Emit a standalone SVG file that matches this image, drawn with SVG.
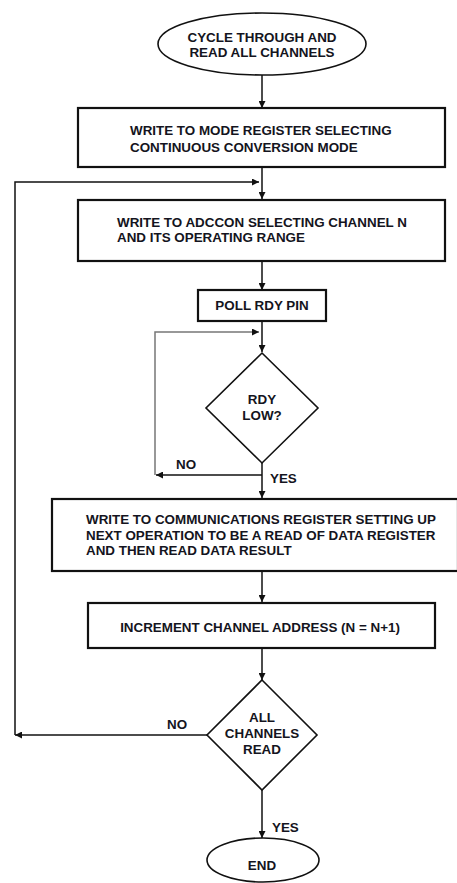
<svg xmlns="http://www.w3.org/2000/svg" width="457" height="883" viewBox="0 0 457 883">
<defs>
<style>
text{font-family:"Liberation Sans",Arial,sans-serif;font-weight:bold;font-size:13.4px;fill:#141420;}
.c{text-anchor:middle;}
.box{fill:#fff;stroke:#111;stroke-width:2.2;}
.shape{fill:#fff;stroke:#111;stroke-width:1.6;}
.ln{fill:none;stroke:#111;stroke-width:1.5;}
.gl{fill:none;stroke:#777;stroke-width:1.5;}
</style>
<marker id="ah" viewBox="0 0 10 10" refX="10" refY="5" markerWidth="10" markerHeight="7" markerUnits="userSpaceOnUse" orient="auto">
<path d="M0,0 L10,5 L0,10 z" fill="#111"/>
</marker>
</defs>
<rect width="457" height="883" fill="#fff"/>
<g id="connectors">
<line class="ln" x1="262" y1="75" x2="262" y2="108" marker-end="url(#ah)"/>
<line class="ln" x1="262" y1="167" x2="262" y2="199" marker-end="url(#ah)"/>
<polyline class="ln" points="15,735 15,182 259,182" marker-end="url(#ah)"/>
<line class="ln" x1="262" y1="261" x2="262" y2="290" marker-end="url(#ah)"/>
<line class="ln" x1="262" y1="321" x2="262" y2="352" marker-end="url(#ah)"/>
<polyline class="gl" points="155,475 155,332 259,332" marker-end="url(#ah)"/>
<line class="ln" x1="262" y1="463" x2="262" y2="498" marker-end="url(#ah)"/>
<line class="ln" x1="262" y1="475" x2="156" y2="475" marker-end="url(#ah)"/>
<line class="ln" x1="262" y1="571" x2="262" y2="602" marker-end="url(#ah)"/>
<line class="ln" x1="262" y1="648" x2="262" y2="680" marker-end="url(#ah)"/>
<line class="ln" x1="207" y1="735" x2="15" y2="735" marker-end="url(#ah)"/>
<line class="ln" x1="262" y1="789" x2="262" y2="838" marker-end="url(#ah)"/>
<text x="176" y="469">NO</text>
<text x="270" y="483">YES</text>
<text x="167" y="729">NO</text>
<text x="272" y="832">YES</text>
</g>
<g id="start">
<ellipse class="shape" cx="262" cy="44" rx="104" ry="31"/>
<text class="c" x="262" y="42">CYCLE THROUGH AND</text>
<text class="c" x="262" y="57">READ ALL CHANNELS</text>
</g>
<g id="mode">
<rect class="box" x="78" y="108" width="367" height="59"/>
<text x="130" y="135">WRITE TO MODE REGISTER SELECTING</text>
<text x="130" y="152">CONTINUOUS CONVERSION MODE</text>
</g>
<g id="adccon">
<rect class="box" x="78" y="200" width="367" height="61"/>
<text x="117" y="227">WRITE TO ADCCON SELECTING CHANNEL N</text>
<text x="117" y="242">AND ITS OPERATING RANGE</text>
</g>
<g id="poll">
<rect class="box" x="198" y="290" width="128" height="31"/>
<text class="c" x="262" y="310">POLL RDY PIN</text>
</g>
<g id="rdy">
<polygon class="shape" points="262,353 318,408 262,463 206,408"/>
<text class="c" x="262" y="404">RDY</text>
<text class="c" x="262" y="420">LOW?</text>
</g>
<g id="comm">
<rect class="box" x="52" y="499" width="406" height="72"/>
<text x="86" y="524">WRITE TO COMMUNICATIONS REGISTER SETTING UP</text>
<text x="86" y="540">NEXT OPERATION TO BE A READ OF DATA REGISTER</text>
<text x="86" y="555">AND THEN READ DATA RESULT</text>
</g>
<g id="increment">
<rect class="box" x="88" y="603" width="347" height="45"/>
<text class="c" x="260" y="632">INCREMENT CHANNEL ADDRESS (N = N+1)</text>
</g>
<g id="allread">
<polygon class="shape" points="262,680 317,735 262,790 207,735"/>
<text class="c" x="262" y="722">ALL</text>
<text class="c" x="262" y="738">CHANNELS</text>
<text class="c" x="262" y="754">READ</text>
</g>
<g id="end">
<ellipse class="shape" cx="263" cy="860" rx="56" ry="22"/>
<text class="c" x="262" y="870">END</text>
</g>
</svg>
